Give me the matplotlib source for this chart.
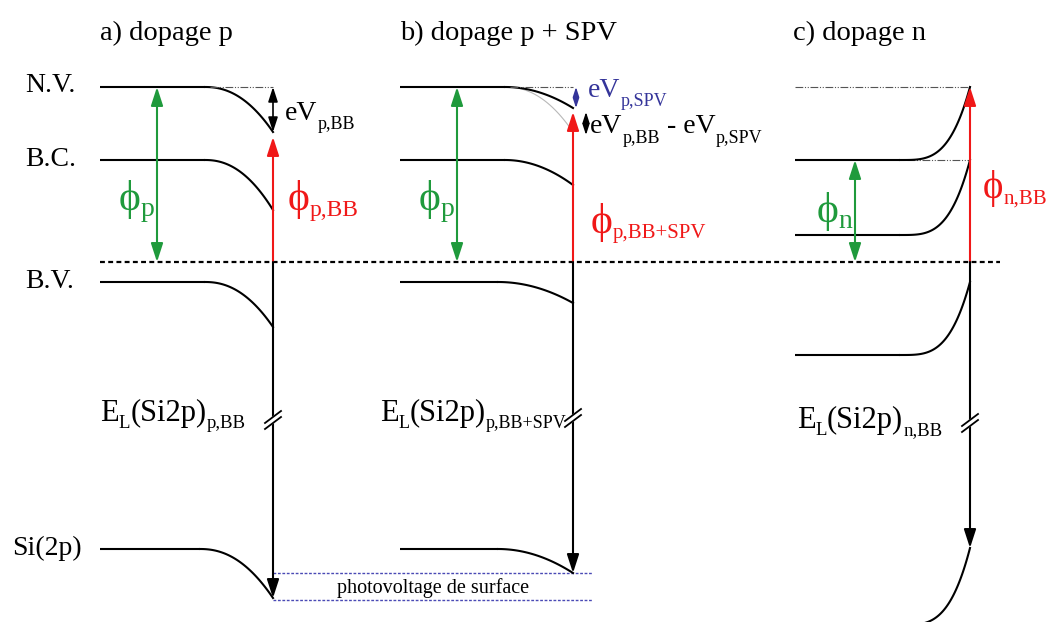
import numpy as np
import matplotlib.pyplot as plt

# niveaux d'energie (px, axe vers le bas) : N.V., B.C., B.V., Si(2p)
noms_niveaux = ['N.V.', 'B.C.', 'B.V.', 'Si(2p)']
volume_a = [87, 160, 282, 549]
surface_a = [132, 210, 327, 598]
volume_b = [87, 160, 282, 549]
surface_b = [108, 185, 303, 573]
volume_c = [160, 235, 355, 625]
surface_c = [87, 160, 282, 548]
fermi = 262
titres = ['a) dopage p', 'b) dopage p + SPV', 'c) dopage n']

SERIF = ['Liberation Serif', 'DejaVu Serif']
VERT = '#1f9a3c'
ROUGE = '#f01818'
BLEU = '#35359a'
PHI = '\u03d5'

fig = plt.figure(figsize=(10.48, 6.22), dpi=100)
ax = fig.add_axes([0, 0, 1, 1])
ax.set_xlim(0, 1048)
ax.set_ylim(622, 0)
ax.axis('off')


def courbe(y0, y1, xs, xe, p, **kw):
    x = np.linspace(xs, xe, 80)
    t = (x - xs) / (xe - xs)
    ax.plot(x, y0 + (y1 - y0) * t ** p, **kw)


def bande(x0, xs, xe, y0, y1, p, **kw):
    # partie plate puis courbure jusqu'a la surface
    kw.setdefault('color', 'black')
    kw.setdefault('lw', 1.5)
    ax.plot([x0, xs], [y0, y0], solid_capstyle='butt', **kw)
    courbe(y0, y1, xs, xe, p, **kw)


def fleche(x, ya, yb, couleur='black', double=False, lw=1.5, echelle=14):
    style = '<|-|>' if double else '-|>'
    ax.annotate('', xy=(x, yb), xytext=(x, ya),
                arrowprops=dict(arrowstyle=style + ',head_length=0.8,head_width=0.26',
                                color=couleur, lw=lw, shrinkA=0, shrinkB=0,
                                mutation_scale=echelle))


def etiquette(x, y, morceaux, couleur='black', taille=20, taille_sub=13, dy_sub=8):
    art = None
    for txt, sub in morceaux:
        kw = dict(color=couleur, fontsize=taille_sub if sub else taille,
                  va='baseline', ha='left', family=SERIF)
        yy = y + dy_sub if sub else y
        if art is None:
            art = ax.text(x, yy, txt, **kw)
        else:
            art = ax.annotate(txt, xy=(1, yy), xycoords=(art, 'data'), **kw)
    return art


def coupure(x, y):
    ax.fill([x - 8, x + 8, x + 8, x - 8], [y + 9, y - 3, y - 9, y + 3],
            color='white', zorder=3)
    for d in (-3, 3):
        ax.plot([x - 8, x + 8], [y + 6 + d, y - 6 + d], color='black',
                lw=1.3, zorder=4)


pointille = (0, (7, 1.5, 1, 1.5, 1, 1.5))

# libelles a gauche
for nom, y in zip(noms_niveaux, volume_a):
    ax.text(12 if nom == 'Si(2p)' else 25, y - 1, nom, fontsize=20,
            family=SERIF, va='center', ha='left')

# titres
for x, titre in zip([100, 400, 793], titres):
    ax.text(x, 40, titre, fontsize=20.5, family=SERIF, va='baseline')

# niveau de Fermi
ax.plot([100, 1000], [fermi, fermi], color='black', lw=1.6,
        linestyle=(0, (2.2, 1.5)))

# ---- a) dopage p
xs_a = 273
for i, (y0, y1) in enumerate(zip(volume_a, surface_a)):
    bande(100, 200 if i == 3 else 205, xs_a, y0, y1, 2.2)
ax.plot([210, xs_a], [volume_a[0]] * 2, color='#555555', lw=0.8, linestyle=pointille)
fleche(xs_a, volume_a[0], surface_a[0], double=True, lw=1.2, echelle=11)
fleche(xs_a, fermi, surface_a[0] + 5, couleur=ROUGE)
fleche(157, volume_a[0], fermi, couleur=VERT, double=True)
fleche(xs_a, fermi, surface_a[3])
coupure(xs_a, 420)
etiquette(285, 120, [('eV', False), ('p,BB', True)], taille=20, taille_sub=13, dy_sub=9)
etiquette(119, 210, [(PHI, False), ('p', True)], couleur=VERT, taille=30, taille_sub=20, dy_sub=6)
etiquette(288, 210, [(PHI, False), ('p,BB', True)], couleur=ROUGE, taille=30, taille_sub=17, dy_sub=6)
etiquette(100, 421, [('E', False), ('L', True), ('(Si2p)', False), ('p,BB', True)],
          taille=22, taille_sub=13.5, dy_sub=7)

# photovoltage de surface
for y in (surface_b[3], surface_a[3] + 2):
    ax.plot([xs_a, 592], [y, y], color='#4a4ab5', lw=1.0, linestyle=(0, (2, 1.2)))
ax.text(433, 588, 'photovoltage de surface', fontsize=14.5, family=SERIF,
        ha='center', va='center')

# ---- b) dopage p + SPV
xs_b = 573
courbe(volume_b[0], surface_a[0], 505, xs_b, 2.2, color='#b8b8b8', lw=0.8)
for i, (y0, y1) in enumerate(zip(volume_b, surface_b)):
    bande(400, 498 if i >= 2 else 505, xs_b, y0, y1, 2.0)
ax.plot([510, xs_b], [volume_b[0]] * 2, color='#555555', lw=0.8, linestyle=pointille)
fleche(576, volume_b[0], surface_b[0], couleur=BLEU, double=True, lw=1.1, echelle=7)
fleche(586, surface_b[0] + 4, surface_a[0] + 3, double=True, lw=1.1, echelle=8)
fleche(xs_b, fermi, surface_b[0] + 4, couleur=ROUGE)
fleche(457, volume_b[0], fermi, couleur=VERT, double=True)
fleche(xs_b, fermi, surface_b[3])
coupure(xs_b, 418)
etiquette(588, 97, [('eV', False), ('p,SPV', True)], couleur=BLEU, taille=20,
          taille_sub=13, dy_sub=9)
etiquette(590, 133, [('eV', False), ('p,BB', True), (' - eV', False), ('p,SPV', True)],
          taille=20, taille_sub=13, dy_sub=10)
etiquette(419, 210, [(PHI, False), ('p', True)], couleur=VERT, taille=30, taille_sub=20, dy_sub=6)
etiquette(591, 233, [(PHI, False), ('p,BB+SPV', True)], couleur=ROUGE, taille=30,
          taille_sub=15, dy_sub=5)
etiquette(380, 421, [('E', False), ('L', True), ('(Si2p)', False), ('p,BB+SPV', True)],
          taille=22, taille_sub=13, dy_sub=7)

# ---- c) dopage n
xs_c = 970
ax.plot([795, xs_c], [surface_c[0]] * 2, color='#555555', lw=0.8, linestyle=pointille)
ax.plot([907, xs_c], [surface_c[1]] * 2, color='#555555', lw=0.8, linestyle=pointille)
for i, (y0, y1) in enumerate(zip(volume_c, surface_c)):
    bande(795, 900, xs_c, y0, y1, 3.5)
fleche(xs_c, fermi, surface_c[0], couleur=ROUGE)
fleche(855, volume_c[0], fermi, couleur=VERT, double=True)
fleche(xs_c, fermi, surface_c[3])
coupure(xs_c, 423)
etiquette(817, 222, [(PHI, False), ('n', True)], couleur=VERT, taille=30, taille_sub=20, dy_sub=6)
etiquette(983, 198, [(PHI, False), ('n,BB', True)], couleur=ROUGE, taille=28,
          taille_sub=15, dy_sub=6)
etiquette(797, 428, [('E', False), ('L', True), ('(Si2p)', False), ('n,BB', True)],
          taille=22, taille_sub=13.5, dy_sub=7)

fig.savefig('out.png', dpi=100)
